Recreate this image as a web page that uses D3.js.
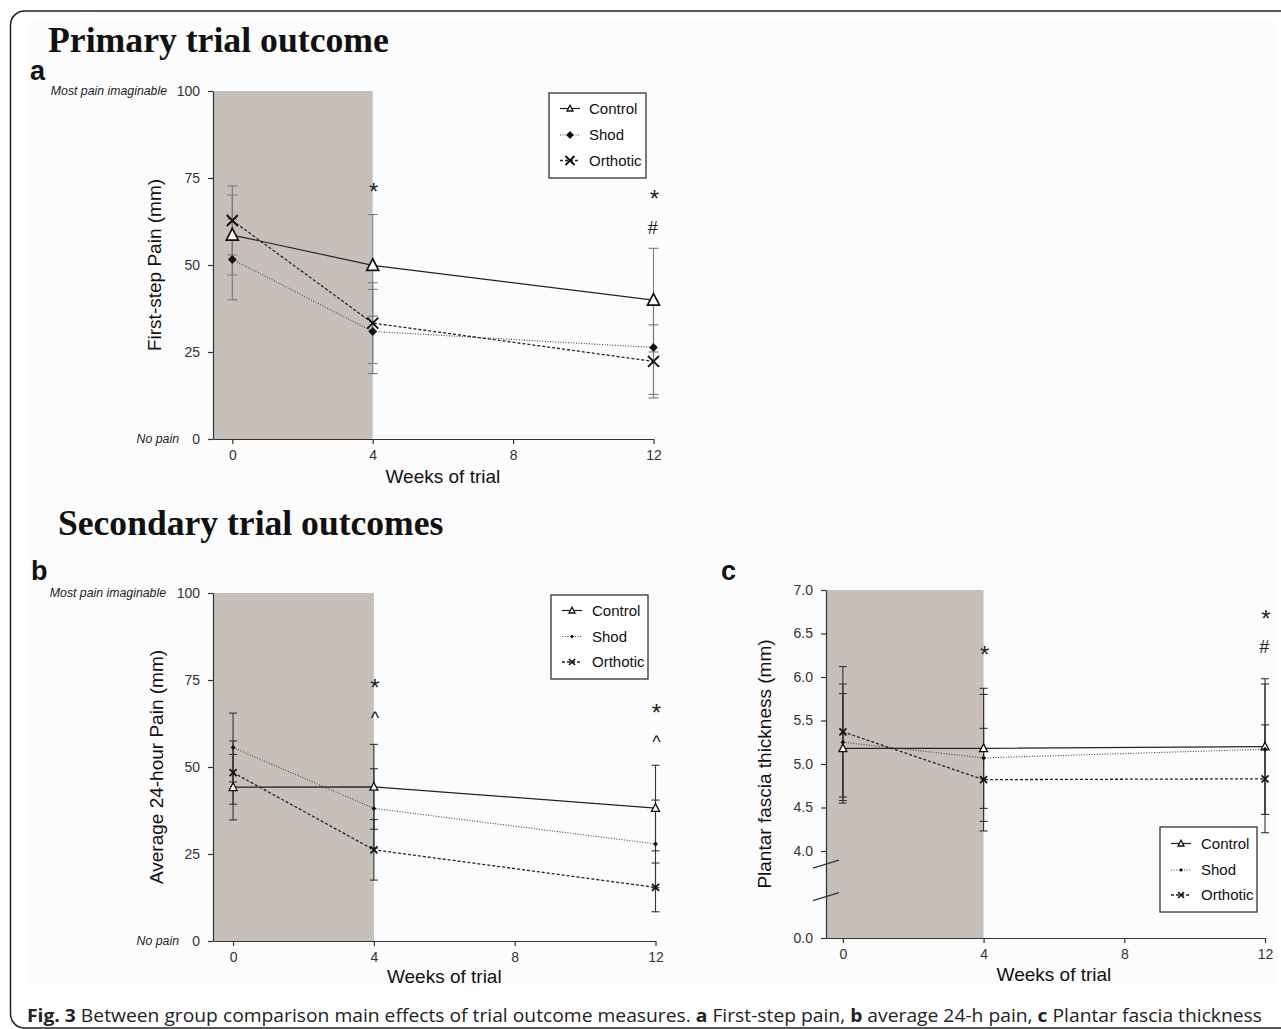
<!DOCTYPE html>
<html><head><meta charset="utf-8">
<script src="https://cdn.jsdelivr.net/npm/d3@7"></script>
<style>body{margin:0;background:#fff}</style>
</head><body>
<svg id="chart" width="1281" height="1029"></svg>
<script>
// ---------------- DATA ----------------
const weeks = [0, 4, 12];
const xTicks = [0, 4, 8, 12];
const seriesNames = ["Control", "Shod", "Orthotic"];
const painTicks = [0, 25, 50, 75, 100];
const thicknessTicks = [0.0, 4.0, 4.5, 5.0, 5.5, 6.0, 6.5, 7.0];
const painEndLabels = ["No pain", "Most pain imaginable"];

// Panel a: First-step pain (mm), mean and error
const aControl = [58.6, 49.9, 39.9], aControlErr = [11.5, 14.6, 14.9];
const aShod = [51.6, 30.9, 26.3], aShodErr = [11.6, 12.1, 13.5];
const aOrthotic = [62.8, 33.3, 22.3], aOrthoticErr = [9.9, 11.6, 10.5];
const aAnnotations = [[4, 72.7, "*"], [12, 70.7, "*"], [12, 60.9, "#"]];

// Panel b: Average 24-hour pain (mm)
const bControl = [44.2, 44.3, 38.2], bControlErr = [9.4, 12.2, 12.3];
const bShod = [55.6, 38.1, 27.9], bShodErr = [9.9, 11.4, 12.6];
const bOrthotic = [48.4, 26.2, 15.4], bOrthoticErr = [9.1, 8.7, 7.0];
const bAnnotations = [[4, 74.4, "*"], [4, 65.5, "^"], [12, 67.3, "*"], [12, 58.7, "^"]];

// Panel c: Plantar fascia thickness (mm)
const cControl = [5.18, 5.18, 5.20], cControlErr = [0.63, 0.69, 0.78];
const cShod = [5.25, 5.07, 5.17], cShodErr = [0.67, 0.73, 0.75];
const cOrthotic = [5.37, 4.82, 4.83], cOrthoticErr = [0.75, 0.59, 0.62];
const cAnnotations = [[4, 6.32, "*"], [12, 6.74, "*"], [12, 6.36, "#"]];

// ---------------- DRAWING ----------------
const svg = d3.select("#chart");
const SANS = "'Liberation Sans', Arial, sans-serif";
const SHADE = "#c7c0ba";

// frame
svg.append("rect").attr("x", 27).attr("y", 22).attr("width", 1250).attr("height", 962).attr("fill", "#fcfcfc");
svg.append("rect").attr("x", 10.5).attr("y", 11).attr("width", 1320).attr("height", 1017)
  .attr("rx", 14).attr("fill", "none").attr("stroke", "#222").attr("stroke-width", 1.5);

// Section titles
svg.append("text").attr("x", 48).attr("y", 52).text("Primary trial outcome")
  .attr("font-family", "'Liberation Serif','Times New Roman',serif").attr("font-weight", "bold").attr("font-size", 35.7).attr("fill", "#111");
svg.append("text").attr("x", 58).attr("y", 535).text("Secondary trial outcomes")
  .attr("font-family", "'Liberation Serif','Times New Roman',serif").attr("font-weight", "bold").attr("font-size", 35.6).attr("fill", "#111");

[["a", 30, 80], ["b", 31, 580], ["c", 721, 580]].forEach(([t, x, y]) => {
  svg.append("text").attr("x", x).attr("y", y).text(t).attr("font-family", SANS)
    .attr("font-weight", "bold").attr("font-size", 27).attr("fill", "#111");
});

function marker(g, type, cx, cy, s) {
  if (type === "tri") {
    g.append("path").attr("d", `M${cx},${cy - s * 0.55}L${cx + s / 2},${cy + s * 0.42}L${cx - s / 2},${cy + s * 0.42}Z`)
      .attr("fill", "#fff").attr("stroke", "#111").attr("stroke-width", s > 8 ? 1.7 : 1.3);
  } else if (type === "dia") {
    g.append("path").attr("d", `M${cx},${cy - s / 2}L${cx + s * 0.48},${cy}L${cx},${cy + s / 2}L${cx - s * 0.48},${cy}Z`)
      .attr("fill", "#111");
  } else {
    g.append("path").attr("d", `M${cx - s / 2},${cy - s / 2}L${cx + s / 2},${cy + s / 2}M${cx - s / 2},${cy + s / 2}L${cx + s / 2},${cy - s / 2}`)
      .attr("stroke", "#111").attr("stroke-width", s > 8 ? 1.9 : 1.7).attr("fill", "none");
  }
}

const lineStyles = [
  { dash: null, color: "#222", width: 1.2, marker: "tri" },
  { dash: "1,1.6", color: "#444", width: 1.1, marker: "dia" },
  { dash: "3,2", color: "#222", width: 1.3, marker: "x" }
];

function drawPanel(cfg) {
  const g = svg.append("g");
  const x = d3.scaleLinear().domain(cfg.xDomain).range(cfg.xRange);
  const y = d3.scaleLinear().domain(cfg.yDomain).range(cfg.yRange);
  const yTop = d3.min(cfg.yRange), yBot = d3.max(cfg.yRange);
  const xLeft = cfg.xRange[0];

  // shaded intervention period
  g.append("rect").attr("x", xLeft).attr("y", yTop).attr("width", x(4) - xLeft).attr("height", yBot - yTop).attr("fill", SHADE);

  // axes
  const yAxis = g.append("g").attr("transform", `translate(${xLeft},0)`)
    .call(d3.axisLeft(y).tickValues(cfg.yTicks).tickSize(5).tickSizeOuter(0).tickPadding(8).tickFormat(cfg.yFormat));
  const xAxis = g.append("g").attr("transform", `translate(0,${yBot})`)
    .call(d3.axisBottom(x).tickValues(xTicks).tickSize(5).tickSizeOuter(0).tickPadding(6));
  [yAxis, xAxis].forEach(a => {
    a.selectAll("path,line").attr("stroke", "#333").attr("stroke-width", 1.2);
    a.selectAll("text").attr("font-family", SANS).attr("font-size", 14).attr("fill", "#333");
  });

  // axis titles
  g.append("text").attr("transform", `translate(${cfg.yTitleX},${(yTop + yBot) / 2}) rotate(-90)`)
    .attr("text-anchor", "middle").attr("font-family", SANS).attr("font-size", 19).attr("fill", "#111").text(cfg.yTitle);
  g.append("text").attr("x", (x(0) + x(12)) / 2).attr("y", cfg.xTitleY).attr("text-anchor", "middle")
    .attr("font-family", SANS).attr("font-size", 19).attr("fill", "#111").text("Weeks of trial");

  if (cfg.endLabels) {
    g.append("text").attr("x", cfg.endLabelX[1]).attr("y", y(100) + 4).attr("text-anchor", "end")
      .attr("font-family", SANS).attr("font-style", "italic").attr("font-size", 12.3).attr("fill", "#222").text(cfg.endLabels[1]);
    g.append("text").attr("x", cfg.endLabelX[0]).attr("y", y(0) + 4).attr("text-anchor", "end")
      .attr("font-family", SANS).attr("font-style", "italic").attr("font-size", 12.3).attr("fill", "#222").text(cfg.endLabels[0]);
  }

  if (cfg.axisBreak) {
    cfg.axisBreak.forEach(v => {
      const yy = y(v);
      g.append("line").attr("x1", xLeft - 13).attr("y1", yy + 4).attr("x2", xLeft + 13).attr("y2", yy - 4)
        .attr("stroke", "#333").attr("stroke-width", 1.3);
    });
  }

  // error bars
  cfg.series.forEach(s => {
    s.values.forEach((v, i) => {
      const cx = x(weeks[i]);
      const lo = y(v - s.err[i]), hi = y(v + s.err[i]);
      g.append("line").attr("x1", cx).attr("x2", cx).attr("y1", lo).attr("y2", hi)
        .attr("stroke", cfg.errColor).attr("stroke-width", 1.1);
      [lo, hi].forEach(yy => g.append("line").attr("x1", cx - cfg.capW / 2).attr("x2", cx + cfg.capW / 2)
        .attr("y1", yy).attr("y2", yy).attr("stroke", cfg.errColor).attr("stroke-width", 1.1));
    });
  });

  // lines
  const line = d3.line().x((d, i) => x(weeks[i])).y(d => y(d));
  cfg.series.forEach((s, k) => {
    const st = lineStyles[k];
    g.append("path").attr("d", line(s.values)).attr("fill", "none").attr("stroke", st.color)
      .attr("stroke-width", st.width).attr("stroke-dasharray", st.dash);
  });
  // markers
  cfg.series.forEach((s, k) => {
    s.values.forEach((v, i) => marker(g, lineStyles[k].marker, x(weeks[i]), y(v), cfg.markerSizes[k]));
  });

  // significance annotations
  cfg.annotations.forEach(([w, v, t]) => {
    const isStar = t === "*";
    g.append("text").attr("x", x(w) + (t === "#" ? -1 : 1)).attr("y", y(v) + (isStar ? 14 : (t === "^" ? 11 : 7)))
      .attr("text-anchor", "middle").attr("font-family", SANS)
      .attr("font-style", t === "#" ? "italic" : "normal")
      .attr("font-size", isStar ? 24 : 18).attr("fill", "#222").text(t);
  });

  // legend
  const L = cfg.legend;
  g.append("rect").attr("x", L.x).attr("y", L.y).attr("width", L.w).attr("height", L.h)
    .attr("fill", "#fff").attr("stroke", "#333").attr("stroke-width", 1.3);
  seriesNames.forEach((name, k) => {
    const st = lineStyles[k];
    const yy = L.y + L.rows[k];
    g.append("line").attr("x1", L.x + L.lx0).attr("x2", L.x + L.lx1).attr("y1", yy).attr("y2", yy)
      .attr("stroke", st.color).attr("stroke-width", st.width).attr("stroke-dasharray", st.dash);
    marker(g, st.marker, L.x + (L.lx0 + L.lx1) / 2, yy, L.msizes[k]);
    g.append("text").attr("x", L.x + L.tx).attr("y", yy + 5).attr("font-family", SANS)
      .attr("font-size", 15).attr("fill", "#111").text(name);
  });
}

function mkSeries(vals, errs) {
  return vals.map((v, k) => ({ name: seriesNames[k], values: v, err: errs[k] }));
}

drawPanel({
  xDomain: [-0.55, 12], xRange: [213, 653.5],
  yDomain: [0, 100], yRange: [439, 91], yTicks: painTicks, yFormat: d3.format("d"),
  yTitle: "First-step Pain (mm)", yTitleX: 161, xTitleY: 483,
  endLabels: painEndLabels, endLabelX: [179, 167],
  series: mkSeries([aControl, aShod, aOrthotic], [aControlErr, aShodErr, aOrthoticErr]),
  errColor: "#7a7a7a", capW: 10, markerSizes: [12, 9, 11],
  annotations: aAnnotations,
  legend: { x: 549, y: 93, w: 97, h: 85, rows: [15.5, 42, 67.5], lx0: 11, lx1: 31, tx: 40, msizes: [6, 8, 9] }
});

drawPanel({
  xDomain: [-0.57, 12], xRange: [213, 655.5],
  yDomain: [0, 100], yRange: [941, 593], yTicks: painTicks, yFormat: d3.format("d"),
  yTitle: "Average 24-hour Pain (mm)", yTitleX: 163, xTitleY: 983,
  endLabels: painEndLabels, endLabelX: [179, 166],
  series: mkSeries([bControl, bShod, bOrthotic], [bControlErr, bShodErr, bOrthoticErr]),
  errColor: "#333", capW: 8, markerSizes: [8, 5, 7],
  annotations: bAnnotations,
  legend: { x: 551, y: 595, w: 97, h: 84, rows: [15.5, 41.5, 67], lx0: 11, lx1: 31, tx: 41, msizes: [6, 4, 6] }
});

drawPanel({
  xDomain: [-0.48, 12], xRange: [826, 1265],
  yDomain: [0, 4, 7], yRange: [938, 851, 590], yTicks: thicknessTicks, yFormat: d3.format(".1f"),
  yTitle: "Plantar fascia thickness (mm)", yTitleX: 771, xTitleY: 981,
  axisBreak: [3.4, 1.9],
  series: mkSeries([cControl, cShod, cOrthotic], [cControlErr, cShodErr, cOrthoticErr]),
  errColor: "#333", capW: 8, markerSizes: [8, 5, 7],
  annotations: cAnnotations,
  legend: { x: 1160, y: 827, w: 97, h: 85, rows: [16.5, 43, 68], lx0: 11, lx1: 31, tx: 41, msizes: [6, 4, 6] }
});

// caption
const cap = svg.append("text").attr("x", 27).attr("y", 1022).attr("font-family", "'Open Sans', sans-serif")
  .attr("font-size", 18).attr("fill", "#222").attr("textLength", 1235).attr("lengthAdjust", "spacingAndGlyphs");
cap.append("tspan").attr("font-weight", "bold").text("Fig. 3");
cap.append("tspan").text(" Between group comparison main effects of trial outcome measures. ");
cap.append("tspan").attr("font-weight", "bold").text("a");
cap.append("tspan").text(" First-step pain, ");
cap.append("tspan").attr("font-weight", "bold").text("b");
cap.append("tspan").text(" average 24-h pain, ");
cap.append("tspan").attr("font-weight", "bold").text("c");
cap.append("tspan").text(" Plantar fascia thickness");
</script>
</body></html>
